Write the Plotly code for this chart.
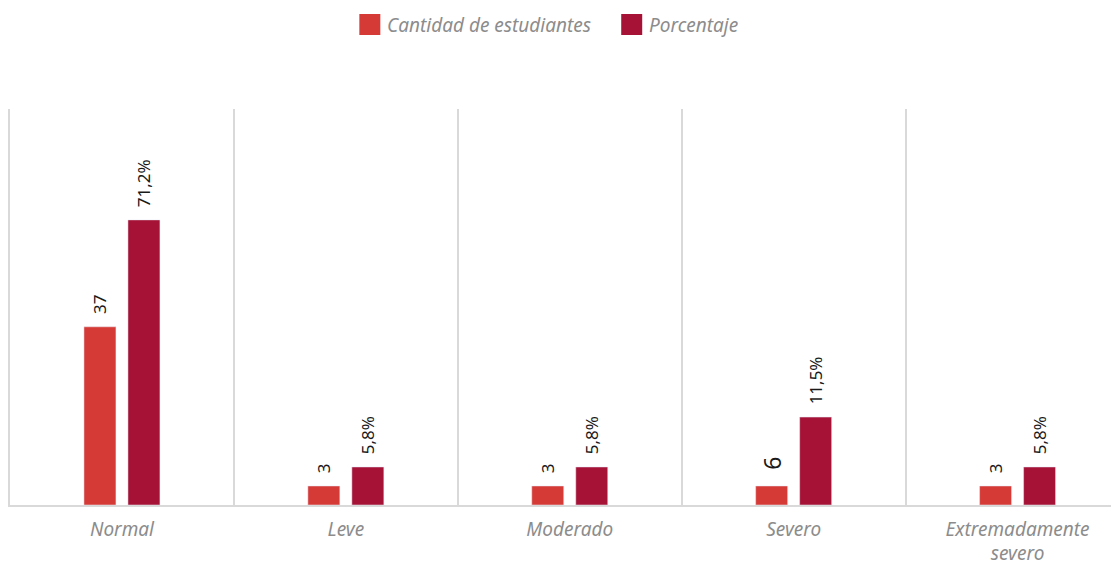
import plotly.graph_objects as go

categories = ["Normal", "Leve", "Moderado", "Severo", "Extremadamente<br>severo"]
series_names = ["Cantidad de estudiantes", "Porcentaje"]

# labels shown on the bars
cantidad_labels = ["37", "3", "3", "6", "3"]
porcentaje_labels = ["71,2%", "5,8%", "5,8%", "11,5%", "5,8%"]

# bar heights as drawn in the picture (axis units 0-100)
cantidad_heights = [45.0, 4.8, 4.8, 4.8, 4.8]
porcentaje_heights = [72.0, 9.6, 9.6, 22.2, 9.6]

cantidad_label_sizes = [17, 17, 17, 23, 17]

RED = "#D63A36"
DARK = "#A51236"
FONT = "Noto Sans"
GRAY = "#8c8c8c"

# page has an 8px body margin: the figure is drawn from (8, 8)
OFF = 8
W, H = 1119 - OFF, 564 - OFF
ML, MR, MT, MB = 9.5 - OFF, 0, 109 - OFF, 59

x = list(range(len(categories)))

fig = go.Figure()
fig.add_trace(go.Bar(
    name=series_names[0], x=x, y=cantidad_heights,
    marker_color=RED, text=["\u2007" + t for t in cantidad_labels],
    textposition="outside", textangle=-90, cliponaxis=False, constraintext="none",
    textfont=dict(family=FONT, size=cantidad_label_sizes, color="#1a1a1a"),
    showlegend=False,
))
fig.add_trace(go.Bar(
    name=series_names[1], x=x, y=porcentaje_heights,
    marker_color=DARK, text=["\u2007" + t for t in porcentaje_labels],
    textposition="outside", textangle=-90, cliponaxis=False, constraintext="none",
    textfont=dict(family=FONT, size=17, color="#1a1a1a"),
    showlegend=False,
))

# custom legend (large square swatches like the original), page pixel positions
pw, ph = W - ML - MR, H - MT - MB
def px(v):
    return (v - OFF - ML) / pw
def py(v):
    return (H - MB - (v - OFF)) / ph

legend_items = [(series_names[0], RED, 359), (series_names[1], DARK, 621)]
for name, color, x0 in legend_items:
    fig.add_shape(type="rect", xref="paper", yref="paper",
                  x0=px(x0), x1=px(x0 + 21), y0=py(35), y1=py(14),
                  fillcolor=color, line_width=0)
    fig.add_annotation(xref="paper", yref="paper", x=px(x0 + 26), y=py(25),
                       xanchor="left", yanchor="middle", showarrow=False,
                       text=name, font=dict(family=FONT, size=19, color=GRAY, style="italic"))

fig.update_layout(
    width=W, height=H,
    margin=dict(l=ML, r=MR, t=MT, b=MB, autoexpand=False),
    paper_bgcolor="white", plot_bgcolor="white",
    barmode="group", bargap=0.607, bargroupgap=0.273,
    font=dict(family=FONT, color=GRAY),
    showlegend=False,
)
fig.update_xaxes(
    range=[-0.5, 4.453], tickmode="array", tickvals=x, ticktext=categories,
    showgrid=False, zeroline=False, showline=True, linecolor="#d9d9d9", linewidth=1.5,
    ticks="", ticklabelstandoff=6, automargin=False,
    tickfont=dict(family=FONT, size=19, color=GRAY, style="italic"),
    minor=dict(tick0=0.5, dtick=1, showgrid=True, gridcolor="#d9d9d9", gridwidth=1.5, ticks=""),
)
fig.update_yaxes(
    range=[0, 100], showgrid=False, zeroline=False, showticklabels=False,
    showline=True, linecolor="#d9d9d9", linewidth=1.5, ticks="", automargin=False,
)

fig.write_html("out.html")
